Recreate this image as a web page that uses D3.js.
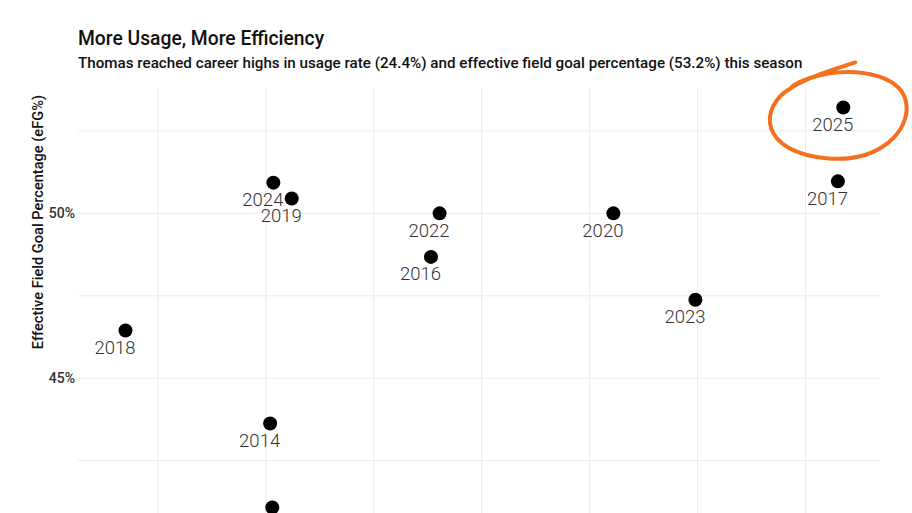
<!DOCTYPE html>
<html>
<head>
	<title>More Usage, More Efficiency</title>
	<script src="https://d3js.org/d3.v7.min.js"></script>
	<style type="text/css">
		body {
			margin: 0;
			background: #fff;
			overflow: hidden;
		}
		svg {
			display: block;
		}
		.title {
			font-family: "Roboto", sans-serif;
			font-weight: 500;
			font-size: 19.3px;
			fill: #111;
		}
		.subtitle {
			font-family: "Roboto", sans-serif;
			font-weight: 500;
			font-size: 15.2px;
			fill: #111;
		}
		.grid line {
			stroke: #ebebeb;
			stroke-width: 1;
		}
		.tick-label {
			font-family: "Roboto", sans-serif;
			font-weight: 500;
			font-size: 14px;
			fill: #333;
		}
		.axis-title {
			font-family: "Roboto", sans-serif;
			font-weight: 500;
			font-size: 14.6px;
			fill: #111;
		}
		.season-label {
			font-family: "Roboto", sans-serif;
			font-weight: 300;
			font-size: 18.5px;
			fill: #333;
		}
		.highlight {
			fill: none;
			stroke: #f5701c;
			stroke-width: 4;
			stroke-linecap: round;
			stroke-linejoin: round;
		}
	</style>
</head>
<body>

<div id="chart"></div>

<script>
	// season, usage rate (%), effective field goal %
	var seasons = ["2014", "2015", "2016", "2017", "2018", "2019", "2020", "2022", "2023", "2024", "2025"];
	var usage   = [19.04, 19.06, 20.53, 24.30, 17.70, 19.24, 22.22, 20.61, 22.98, 19.07, 24.35];
	var efg     = [43.63, 41.08, 48.68, 50.97, 46.45, 50.45, 50.00, 50.00, 47.38, 50.93, 53.21];

	var xTicks = [18, 19, 20, 21, 22, 23, 24];
	var yTicks = [40, 42.5, 45, 47.5, 50, 52.5];
	var yTickLabels = {45: "45%", 50: "50%"};

	var width = 912, height = 513;
	var margin = {top: 88, left: 78, right: 32};

	var x = d3.scaleLinear()
		.domain([17.26, 24.69])
		.range([margin.left, width - margin.right]);

	// panel runs past the bottom of the frame
	var y = d3.scaleLinear()
		.domain([40.4, 53.8])
		.range([530, margin.top]);

	var svg = d3.select("#chart").append("svg")
		.attr("width", width)
		.attr("height", height);

	var data = seasons.map(function(s, i) {
		return {season: s, usage: usage[i], efg: efg[i]};
	});

	// grid
	var grid = svg.append("g").attr("class", "grid");

	grid.selectAll(".hline")
		.data(yTicks)
		.enter().append("line")
		.attr("x1", x.range()[0])
		.attr("x2", x.range()[1])
		.attr("y1", function(d) { return y(d); })
		.attr("y2", function(d) { return y(d); });

	grid.selectAll(".vline")
		.data(xTicks)
		.enter().append("line")
		.attr("x1", function(d) { return x(d); })
		.attr("x2", function(d) { return x(d); })
		.attr("y1", y.range()[1])
		.attr("y2", y.range()[0]);

	// y tick labels
	svg.selectAll(".tick-label")
		.data(yTicks.filter(function(d) { return yTickLabels[d]; }))
		.enter().append("text")
		.attr("class", "tick-label")
		.attr("x", margin.left - 3)
		.attr("y", function(d) { return y(d); })
		.attr("dy", "0.36em")
		.attr("text-anchor", "end")
		.text(function(d) { return yTickLabels[d]; });

	// y axis title, aligned to the top of the panel
	svg.append("text")
		.attr("class", "axis-title")
		.attr("transform", "translate(43," + (margin.top + 7) + ") rotate(-90)")
		.attr("text-anchor", "end")
		.text("Effective Field Goal Percentage (eFG%)");

	// points
	svg.selectAll(".dot")
		.data(data)
		.enter().append("circle")
		.attr("class", "dot")
		.attr("cx", function(d) { return x(d.usage); })
		.attr("cy", function(d) { return y(d.efg); })
		.attr("r", 7)
		.attr("fill", "#000");

	// labels sit under each dot; the one below the frame is not drawn
	svg.selectAll(".season-label")
		.data(data.filter(function(d) { return y(d.efg) + 23.5 < height; }))
		.enter().append("text")
		.attr("class", "season-label")
		.attr("x", function(d) { return x(d.usage) - 10.5; })
		.attr("y", function(d) { return y(d.efg) + 23.5; })
		.attr("text-anchor", "middle")
		.text(function(d) { return d.season; });

	// hand-drawn circle round the latest season
	var last = data[data.length - 1];
	var cx = x(last.usage), cy = y(last.efg);
	var loop = d3.path();
	loop.moveTo(cx + 12, cy - 45);
	loop.bezierCurveTo(cx - 13, cy - 37, cx - 38, cy - 29, cx - 53, cy - 19);
	loop.bezierCurveTo(cx - 84, cy - 1, cx - 86, cy + 45, cx - 15, cy + 51);
	loop.bezierCurveTo(cx + 37, cy + 55, cx + 67, cy + 23, cx + 63, cy - 4);
	loop.bezierCurveTo(cx + 59, cy - 31, cx + 19, cy - 39, cx - 15, cy - 34);
	loop.bezierCurveTo(cx - 31, cy - 31, cx - 43, cy - 27, cx - 51, cy - 21);

	svg.append("path")
		.attr("class", "highlight")
		.attr("d", loop.toString());

	// titles
	svg.append("text")
		.attr("class", "title")
		.attr("x", margin.left)
		.attr("y", 45)
		.text("More Usage, More Efficiency");

	svg.append("text")
		.attr("class", "subtitle")
		.attr("x", margin.left)
		.attr("y", 68)
		.text("Thomas reached career highs in usage rate (24.4%) and effective field goal percentage (53.2%) this season");
</script>

</body>
</html>
